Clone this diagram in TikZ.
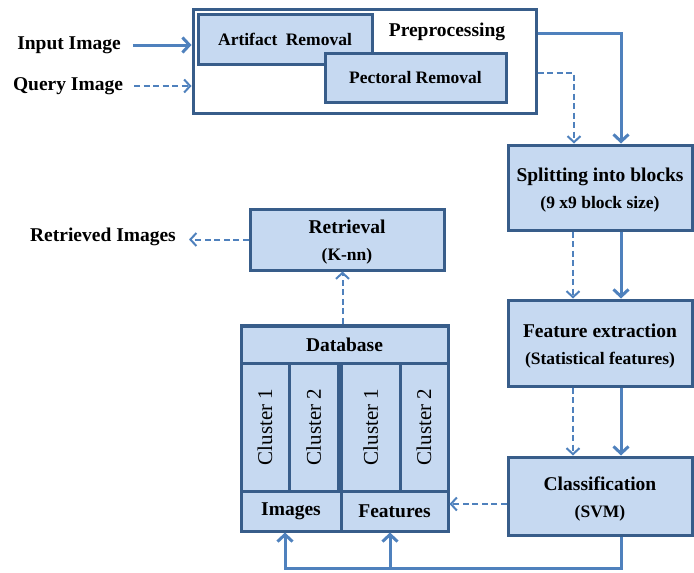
\documentclass[tikz,border=0pt]{standalone}
\usepackage{fontspec}
\setmainfont{Liberation Serif}
\usetikzlibrary{arrows.meta,calc}
\definecolor{boxline}{RGB}{56,93,138}
\definecolor{boxfill}{RGB}{198,217,241}
\definecolor{flowblue}{RGB}{79,129,189}
\newcommand{\titlefont}{\fontsize{19.5}{27}\selectfont\bfseries}
\newcommand{\subfont}{\fontsize{17.5}{27}\selectfont\bfseries}
\newcommand{\stepfont}{\fontsize{17.5}{20}\selectfont\bfseries}
\newcommand{\clusterfont}{\fontsize{21}{24}\selectfont}
% raises the top of a two-line box text so it sits a little lower
\newcommand{\topstrut}{\rule{0pt}{19pt}}

\begin{document}
\begin{tikzpicture}[x=1pt,y=-1pt,
  box/.style={draw=boxline, fill=boxfill, line width=3pt, inner sep=0pt,
              align=center, font=\titlefont},
  txt/.style={inner sep=0pt, font=\titlefont},
  flow/.style={draw=flowblue, line width=3pt,
               -{Straight Barb[length=7pt,width=15pt]}},
  query/.style={draw=flowblue, line width=2pt, dash pattern=on 6pt off 3.5pt,
                -{Straight Barb[length=6pt,width=13pt]}},
]
\useasboundingbox (0,0) rectangle (694,573);

% ---- preprocessing stage ----
\node[draw=boxline, fill=white, line width=3pt, inner sep=0pt,
      minimum width=343pt, minimum height=104pt] (pre) at (364.5,61) {};
\node[box, font=\stepfont, minimum width=174pt, minimum height=50pt]
      (art) at (285,39) {Artifact\hspace{4pt} Removal};
\node[box, font=\stepfont, minimum width=181pt, minimum height=49pt]
      (pec) at (415.5,78) {Pectoral Removal};
\node[txt] (pretitle) at (447,32) {Preprocessing};

\node[txt] (inp) at (69,45) {Input Image};
\node[txt] (qry) at (68,86) {Query Image};

% ---- processing chain ----
\node[box, minimum width=184pt, minimum height=85pt] (split) at (600,187.5)
      {\topstrut Splitting into blocks\\{\subfont (9 x9 block size)}};
\node[box, minimum width=184pt, minimum height=86pt] (feat) at (600,343)
      {\topstrut Feature extraction\\{\subfont (Statistical features)}};
\node[box, minimum width=184pt, minimum height=78pt] (class) at (600,496)
      {\topstrut Classification\\{\subfont (SVM)}};

% ---- retrieval ----
\node[box, minimum width=194pt, minimum height=61pt] (retr) at (347,239.5)
      {\topstrut Retrieval\\{\subfont (K-nn)}};
\node[txt] (rimg) at (103,237) {Retrieved Images};

% ---- database ----
\node[box, minimum width=207pt, minimum height=206pt] (db) at (344.5,428) {};
\node[box, minimum width=207pt, minimum height=38pt] (dbhead) at (344.5,345) {Database};
\node[box, font=\clusterfont, minimum width=48pt, minimum height=128pt]
      (c1) at (265,427) {\rotatebox{90}{Cluster 1}};
\node[box, font=\clusterfont, minimum width=49.5pt, minimum height=128pt]
      (c2) at (313.75,427) {\rotatebox{90}{Cluster 2}};
\node[box, font=\clusterfont, minimum width=58.5pt, minimum height=128pt]
      (c3) at (370.75,427) {\rotatebox{90}{Cluster 1}};
\node[box, font=\clusterfont, minimum width=48pt, minimum height=128pt]
      (c4) at (424,427) {\rotatebox{90}{Cluster 2}};
\node[box, minimum width=100pt, minimum height=40pt] (imgs) at (291,511) {Images};
\node[box, minimum width=107pt, minimum height=40pt] (feats) at (394.5,511) {Features};

% ---- connectors ----
\draw[flow, shorten <=12pt] (inp.east) -- (inp.east -| pre.west);
\draw[query, shorten <=11pt] (qry.east) -- (qry.east -| pre.west);

\draw[flow] ([yshift=28]pre.east) -| ([xshift=21]split.north);
\draw[query] ([yshift=-12]pre.east) -| ([xshift=-26]split.north);

\draw[flow] ([xshift=21]split.south) -- ([xshift=21]feat.north);
\draw[query] ([xshift=-27]split.south) -- ([xshift=-27]feat.north);
\draw[flow] ([xshift=21]feat.south) -- ([xshift=21]class.north);
\draw[query] ([xshift=-27]feat.south) -- ([xshift=-27]class.north);

\draw[query] ([yshift=-8]class.west) -- ([yshift=-8]class.west -| db.east);

\coordinate (bus) at (0,568);
\coordinate (imgin) at ([xshift=-6]imgs.south);
\coordinate (featin) at ([xshift=-4.5]feats.south);
\draw[flow] ([xshift=21]class.south) |- (imgin |- bus) -- (imgin);
\draw[flow] (featin |- bus) -- (featin);

\draw[query] ([xshift=-2]db.north) -- ([xshift=-2]db.north |- retr.south);
\draw[query, shorten >=13pt] (retr.west) -- (retr.west -| rimg.east);
\end{tikzpicture}
\end{document}
